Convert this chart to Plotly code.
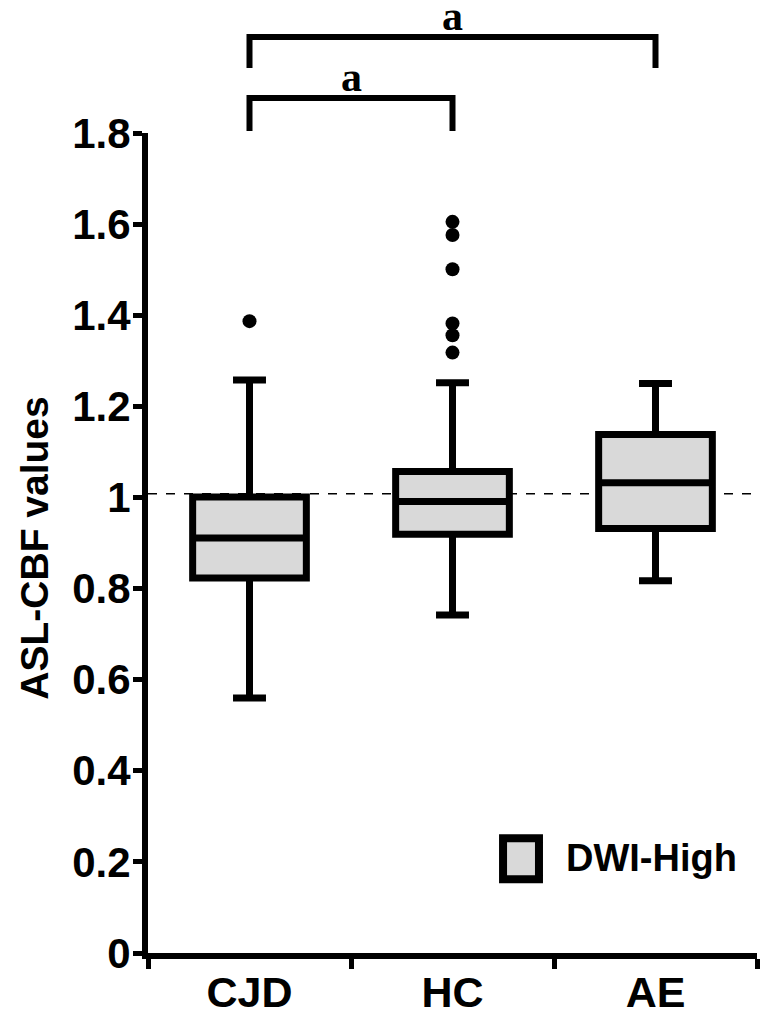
"""ASL-CBF values by group, box plot (DWI-High)"""

import plotly.graph_objects as go

# groups and box statistics
groups = ["CJD", "HC", "AE"]
lower_fence = [0.560, 0.742, 0.817]
q1 = [0.823, 0.919, 0.932]
median = [0.911, 0.991, 1.032]
q3 = [1.001, 1.057, 1.138]
upper_fence = [1.258, 1.252, 1.250]

# outliers
outlier_group = ["CJD", "HC", "HC", "HC", "HC", "HC", "HC"]
outlier_value = [1.387, 1.605, 1.576, 1.501, 1.382, 1.356, 1.318]

ref_level = 1.008  # dashed reference line

y_ticks = [0, 0.2, 0.4, 0.6, 0.8, 1, 1.2, 1.4, 1.6, 1.8]
y_ticktext = ["0", "0.2", "0.4", "0.6", "0.8", "1", "1.2", "1.4", "1.6", "1.8"]

# significance brackets: (from group index, to group index, label)
brackets = [(0, 1, "a"), (0, 2, "a")]

font_family = "Liberation Sans, Arial, sans-serif"
y_max = 1.8

fig = go.Figure()
fig.add_trace(
    go.Box(
        x=groups,
        q1=q1,
        median=median,
        q3=q3,
        lowerfence=lower_fence,
        upperfence=upper_fence,
        boxpoints=False,
        fillcolor="#d9d9d9",
        line=dict(color="black", width=7),
        whiskerwidth=0.29,
        width=0.56,
        name="DWI-High",
        showlegend=False,
    )
)
fig.add_trace(
    go.Scatter(
        x=outlier_group,
        y=outlier_value,
        mode="markers",
        marker=dict(color="black", size=14),
        showlegend=False,
    )
)

# dashed line behind the boxes
fig.add_shape(
    type="line", xref="paper", yref="y", x0=0, x1=1, y0=ref_level, y1=ref_level,
    line=dict(color="black", width=1.5, dash="dash"), layer="below",
)


def to_paper(px_from_bottom):
    # pixel offset above the x axis -> paper y
    return px_from_bottom / 820.0


# brackets above the plot
for level, (i0, i1, label) in enumerate(brackets):
    top = to_paper(855 + 61 * level)
    foot = to_paper(822 + 63 * level)
    fig.add_shape(
        type="path", xref="x", yref="paper",
        path=f"M {i0},{foot} L {i0},{top} L {i1},{top} L {i1},{foot}",
        line=dict(color="black", width=6),
    )
    fig.add_annotation(
        x=(i0 + i1) / 2, y=top - to_paper(4), xref="x", yref="paper",
        text=label, showarrow=False, yanchor="bottom",
        font=dict(family="Liberation Serif, Times New Roman, serif", size=42,
                  color="black", weight="bold"),
    )

# legend drawn by hand
fig.add_shape(
    type="rect", xref="paper", yref="paper",
    x0=0.583, x1=0.642, y0=0.090, y1=0.140,
    fillcolor="#d9d9d9", line=dict(color="black", width=8),
)
fig.add_annotation(
    x=0.683, y=0.116, xref="paper", yref="paper", text="DWI-High",
    showarrow=False, xanchor="left", yanchor="middle",
    font=dict(family=font_family, size=38, color="black", weight="bold"),
)

# y-axis title
fig.add_annotation(
    x=-0.186, y=0.494, xref="paper", yref="paper", text="ASL-CBF values",
    showarrow=False, textangle=-90, xanchor="center", yanchor="middle",
    font=dict(family=font_family, size=39, color="black", weight="bold"),
)

fig.update_layout(
    width=768,
    height=1018,
    margin=dict(l=148, r=11, t=133, b=65, autoexpand=False),
    plot_bgcolor="white",
    paper_bgcolor="white",
    font=dict(family=font_family, color="black"),
)
fig.update_xaxes(
    type="category",
    categoryorder="array",
    categoryarray=groups,
    range=[-0.5, 2.5],
    tickson="boundaries",
    ticks="outside",
    ticklen=10,
    tickwidth=5,
    tickcolor="black",
    ticklabelstandoff=-4,
    showline=True,
    linewidth=6,
    linecolor="black",
    showgrid=False,
    zeroline=False,
    tickfont=dict(family=font_family, size=43, color="black", weight="bold"),
    automargin=False,
)
fig.update_yaxes(
    range=[0, y_max],
    tickvals=y_ticks,
    ticktext=y_ticktext,
    ticks="outside",
    ticklen=9,
    tickwidth=5,
    tickcolor="black",
    ticklabelstandoff=-6,
    showline=True,
    linewidth=6,
    linecolor="black",
    showgrid=False,
    zeroline=False,
    tickfont=dict(family=font_family, size=42, color="black", weight="bold"),
    automargin=False,
)

fig.write_html(
    "out.html",
    config={"displayModeBar": False},
    post_script="document.body.style.margin='0';",
)
